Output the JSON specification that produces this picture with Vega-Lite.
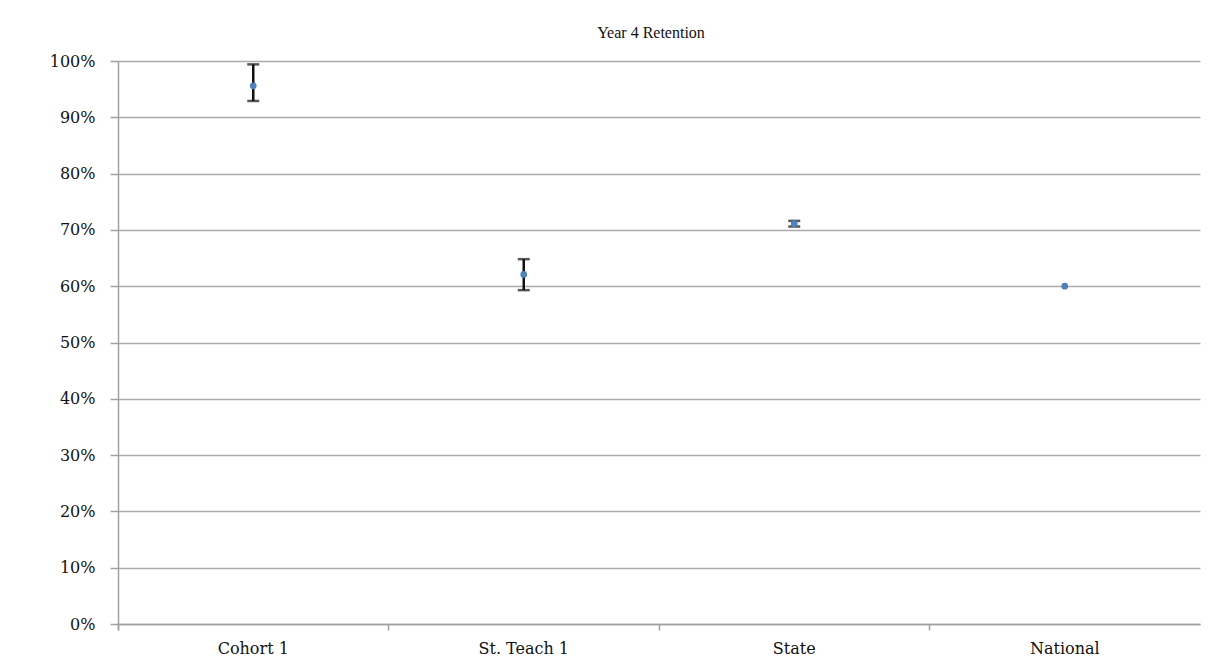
{
  "$schema": "https://vega.github.io/schema/vega-lite/v6.json",
  "width": 1082,
  "height": 563,
  "autosize": {"type": "none"},
  "padding": {"left": 118, "top": 61, "right": 15, "bottom": 46},
  "background": "white",
  "title": {"text": "Year 4 Retention", "font": "Liberation Serif", "fontSize": 16, "fontWeight": "normal", "color": "#111", "offset": 12, "dx": -8},
  "config": {
    "view": {"stroke": null},
    "axis": {"labelFont": "DejaVu Serif", "labelFontSize": 16, "labelColor": "#111", "domainColor": "#a0a0a0", "tickColor": "#a0a0a0", "domainWidth": 1.5, "tickWidth": 1.5}
  },
  "data": {"values": [
    {"group": "Cohort 1", "value": 0.956, "lo": 0.929, "hi": 0.994},
    {"group": "St. Teach 1", "value": 0.621, "lo": 0.593, "hi": 0.648},
    {"group": "State", "value": 0.711, "lo": 0.706, "hi": 0.716},
    {"group": "National", "value": 0.60, "lo": 0.60, "hi": 0.60}
  ]},
  "encoding": {
    "x": {"field": "group", "type": "nominal", "sort": null, "title": null,
      "scale": {"type": "band", "paddingInner": 0, "paddingOuter": 0},
      "axis": {"labelAngle": 0, "bandPosition": 0, "tickExtra": true, "tickSize": 6, "labelPadding": 10, "grid": false}}
  },
  "layer": [
    {
      "mark": {"type": "point", "filled": true, "opacity": 0},
      "encoding": {
        "y": {"field": "value", "type": "quantitative", "title": null,
          "scale": {"domain": [0, 1], "nice": false},
          "axis": {"format": ".0%", "values": [0, 0.1, 0.2, 0.3, 0.4, 0.5, 0.6, 0.7, 0.8, 0.9, 1], "grid": true, "gridColor": "#aaaaaa", "gridWidth": 1.5, "tickSize": 8, "labelPadding": 15}}
      }
    },
    {
      "transform": [{"filter": "datum.hi > datum.lo"}],
      "mark": {"type": "errorbar", "ticks": {"size": 12, "thickness": 2.5, "color": "#111"}, "thickness": 2.5, "color": "#111"},
      "encoding": {
        "y": {"field": "lo", "type": "quantitative"},
        "y2": {"field": "hi"}
      }
    },
    {
      "mark": {"type": "point", "filled": true, "color": "#4f81bd", "opacity": 1, "size": 45},
      "encoding": {
        "y": {"field": "value", "type": "quantitative"}
      }
    }
  ]
}
